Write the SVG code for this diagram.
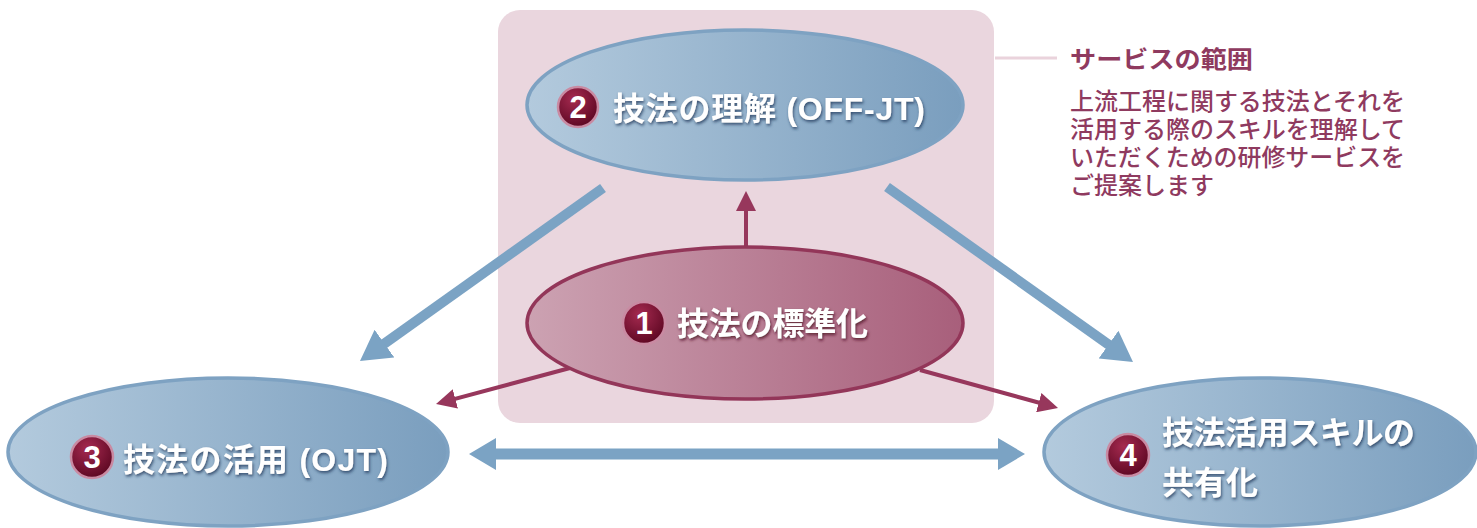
<svg xmlns="http://www.w3.org/2000/svg" width="1477" height="528" viewBox="0 0 1477 528">
<defs>
<linearGradient id="gBlue" x1="0" y1="0" x2="1" y2="0">
<stop offset="0" stop-color="#b3cadd"/>
<stop offset="1" stop-color="#7a9ebe"/>
</linearGradient>
<linearGradient id="gPink" x1="0" y1="0" x2="1" y2="0">
<stop offset="0" stop-color="#cca2b2"/>
<stop offset="1" stop-color="#a85f7b"/>
</linearGradient>
<radialGradient id="gNum" cx="0.4" cy="0.3" r="0.75">
<stop offset="0" stop-color="#a52a50"/>
<stop offset="1" stop-color="#5a0620"/>
</radialGradient>
<filter id="shB" x="-10%" y="-30%" width="120%" height="160%">
<feDropShadow dx="1" dy="2" stdDeviation="1.6" flood-color="#24385a" flood-opacity="0.8"/>
</filter>
<filter id="shR" x="-10%" y="-30%" width="120%" height="160%">
<feDropShadow dx="1" dy="2" stdDeviation="1.6" flood-color="#4a0c24" flood-opacity="0.8"/>
</filter>
<marker id="mBlue" markerUnits="userSpaceOnUse" markerWidth="30" markerHeight="34" refX="10" refY="17" orient="auto">
<path d="M0,0 L30,17 L0,34 z" fill="#7ba3c4"/>
</marker>
<marker id="mBlueH" markerUnits="userSpaceOnUse" markerWidth="27" markerHeight="32" refX="12" refY="16" orient="auto-start-reverse">
<path d="M0,0 L27,16 L0,32 z" fill="#7ba3c4"/>
</marker>
<marker id="mRed" markerUnits="userSpaceOnUse" markerWidth="20" markerHeight="20" refX="10" refY="10" orient="auto">
<path d="M0,0 L20,10 L0,20 z" fill="#97375c"/>
</marker>
</defs>
<style>
.lbl{font-family:"Liberation Sans","Noto Sans CJK JP",sans-serif;font-weight:700;font-size:32px;fill:#ffffff}
.num{font-family:"Liberation Sans",sans-serif;font-weight:700;font-size:31px;fill:#ffffff;text-anchor:middle}
.nc{fill:url(#gNum);stroke:#c98aa2;stroke-width:2.5}
.eb{fill:url(#gBlue);stroke:#7ea2c2;stroke-width:3.5}
.ep{fill:url(#gPink);stroke:#933659;stroke-width:3.5}
.bl{stroke:#7ba3c4;fill:none}
.rd{stroke:#97375c;stroke-width:4;fill:none}
.note{font-family:"Liberation Sans","Noto Sans CJK JP",sans-serif;fill:#8f3a5f}
</style>

<g id="service-scope">
<rect x="498" y="10" width="496" height="413" rx="22" fill="#ead6de"/>
<line x1="995" y1="58" x2="1057" y2="58" stroke="#ead3dc" stroke-width="3"/>
<text class="note" x="1070" y="68" font-size="24" font-weight="700" textLength="183" lengthAdjust="spacingAndGlyphs">サービスの範囲</text>
<text class="note" x="1070" y="110" font-size="24" font-weight="500" textLength="335" lengthAdjust="spacingAndGlyphs">上流工程に関する技法とそれを</text>
<text class="note" x="1070" y="138" font-size="24" font-weight="500" textLength="335" lengthAdjust="spacingAndGlyphs">活用する際のスキルを理解して</text>
<text class="note" x="1070" y="166" font-size="24" font-weight="500" textLength="335" lengthAdjust="spacingAndGlyphs">いただくための研修サービスを</text>
<text class="note" x="1070" y="194" font-size="24" font-weight="500">ご提案します</text>
</g>

<g id="connectors">
<line class="bl" stroke-width="10" x1="603" y1="188" x2="376.3" y2="349.4" marker-end="url(#mBlue)"/>
<line class="bl" stroke-width="10" x1="887" y1="187" x2="1116.7" y2="350.4" marker-end="url(#mBlue)"/>
<line class="bl" stroke-width="11" x1="484" y1="454" x2="1010" y2="454" marker-start="url(#mBlueH)" marker-end="url(#mBlueH)"/>
<line class="rd" x1="746" y1="247" x2="746" y2="201" marker-end="url(#mRed)"/>
<line class="rd" x1="570" y1="368" x2="445.7" y2="401.4" marker-end="url(#mRed)"/>
<line class="rd" x1="920" y1="370" x2="1048.4" y2="405.3" marker-end="url(#mRed)"/>
</g>

<g id="node2">
<ellipse class="eb" cx="745" cy="105" rx="218" ry="75"/>
<circle class="nc" cx="578" cy="107" r="20"/>
<text class="num" x="578" y="118">2</text>
<text class="lbl" x="613" y="120" filter="url(#shB)" textLength="312" lengthAdjust="spacing">技法の理解 (OFF-JT)</text>
</g>

<g id="node1">
<ellipse class="ep" cx="745" cy="323" rx="218" ry="76"/>
<circle class="nc" cx="644" cy="323" r="21"/>
<text class="num" x="644" y="334">1</text>
<text class="lbl" x="677" y="335" filter="url(#shR)" textLength="191" lengthAdjust="spacing">技法の標準化</text>
</g>

<g id="node3">
<ellipse class="eb" cx="228" cy="452" rx="220" ry="74"/>
<circle class="nc" cx="92" cy="457" r="21"/>
<text class="num" x="92" y="468">3</text>
<text class="lbl" x="123" y="471" filter="url(#shB)" textLength="265" lengthAdjust="spacing">技法の活用 (OJT)</text>
</g>

<g id="node4">
<ellipse class="eb" cx="1260" cy="452" rx="216" ry="74"/>
<circle class="nc" cx="1128" cy="455" r="21"/>
<text class="num" x="1128" y="466">4</text>
<text class="lbl" x="1162" y="444" filter="url(#shB)" textLength="253" lengthAdjust="spacing">技法活用スキルの</text>
<text class="lbl" x="1162" y="494" filter="url(#shB)">共有化</text>
</g>
</svg>
